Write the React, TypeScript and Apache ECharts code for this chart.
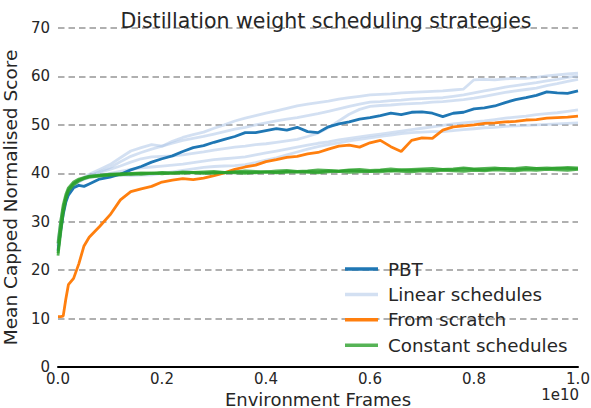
import React, { useEffect, useRef } from "react";
import * as echarts from "echarts";

const X = [
  0, 0.005, 0.01, 0.015, 0.02, 0.03, 0.04, 0.05, 0.06,
  0.08, 0.10, 0.12, 0.14, 0.16, 0.18, 0.20, 0.22, 0.24, 0.26,
  0.28, 0.30, 0.32, 0.34, 0.36, 0.38, 0.40, 0.42, 0.44, 0.46,
  0.48, 0.50, 0.52, 0.54, 0.56, 0.58, 0.60, 0.62, 0.64, 0.66,
  0.68, 0.70, 0.72, 0.74, 0.76, 0.78, 0.80, 0.82, 0.84, 0.86,
  0.88, 0.90, 0.92, 0.94, 0.96, 0.98, 1.00,
];

const PBT = [
  24, 28, 31.5, 34, 35.5, 37, 37.5, 37.3, 37.8,
  38.8, 39.2, 39.8, 40.7, 41.4, 42.3, 43, 43.6, 44.5, 45.3,
  45.7, 46.4, 47, 47.6, 48.4, 48.4, 48.8, 49.2, 48.9, 49.5,
  48.6, 48.4, 49.6, 50.2, 50.6, 51.2, 51.5, 51.9, 52.4, 52.1,
  52.6, 52.7, 52.4, 51.7, 52.4, 52.6, 53.3, 53.5, 53.9, 54.6,
  55.2, 55.6, 56.1, 56.8, 56.6, 56.5, 57,
];

const SCRATCH = [
  10.4, 10.4, 10.5, 14, 17, 18.3, 21.3, 25, 26.8,
  29, 31.4, 34.5, 36.2, 36.8, 37.3, 38.2, 38.6, 38.9, 38.7,
  39, 39.5, 40.1, 40.8, 41.3, 41.7, 42.4, 42.8, 43.3, 43.5,
  44, 44.3, 45, 45.6, 45.8, 45.4, 46.3, 46.8, 45.5, 44.5,
  46.8, 47.3, 47.2, 48.9, 49.6, 49.8, 50, 50.3, 50.4, 50.6,
  50.7, 51, 51.1, 51.4, 51.5, 51.6, 51.8,
];

const LINEAR_1 = [
  26, 30, 33, 35, 36.5, 37.8, 38.6, 39.2, 39.8,
  40.8, 41.8, 43.2, 44.6, 45.3, 45.9, 45.6, 46.6, 47.4, 48,
  48.5, 49.3, 50, 50.8, 51.4, 51.9, 52.4, 52.9, 53.4, 53.9,
  54.3, 54.6, 54.9, 55.3, 55.6, 55.9, 56.2, 56.3, 56.4, 56.6,
  56.7, 56.8, 56.9, 57, 57.2, 57.4, 59.3, 59.4, 59.3, 59.5,
  59.6, 59.6, 59.8, 60.1, 60.3, 60.5, 60.7,
];
const LINEAR_2 = [
  25, 29, 32.5, 34.7, 36.2, 37.6, 38.4, 38.9, 39.4,
  40.3, 41.2, 42.4, 43.5, 44.3, 45, 45.6, 46.2, 46.8, 47.2,
  47.6, 48.1, 48.6, 49.1, 49.5, 50, 50.4, 50.8, 51.2, 51.5,
  51.9, 52.3, 52.8, 53.3, 53.8, 54.3, 54.7, 54.8, 55, 55.1,
  55.3, 55.4, 55.5, 55.6, 55.9, 56.2, 56.6, 57, 57.4, 57.8,
  58.1, 58.4, 58.7, 59.1, 59.4, 59.8, 60.1,
];
const LINEAR_3 = [
  25.5, 29.5, 32.8, 35, 36.4, 37.7, 38.5, 39, 39.5,
  40.2, 40.8, 41.5, 42.3, 43, 43.4, 43.5, 43.6, 43.8, 44.1,
  44.4, 44.8, 45.1, 45.4, 45.6, 45.9, 46.1, 46.4, 46.7, 47,
  47.6, 48.3, 49.4, 50.8, 52.2, 53.2, 53.8, 54, 54.1, 54.3,
  54.4, 54.5, 54.7, 54.8, 55, 55.2, 55.5, 55.9, 56.3, 56.7,
  57, 57.3, 57.6, 58.1, 58.5, 59, 59.4,
];
const LINEAR_4 = [
  24.5, 28.5, 32, 34.5, 36, 37.4, 38.2, 38.8, 39.2,
  39.6, 40, 40.4, 40.8, 41.1, 41.3, 41.5, 41.7, 41.9, 42.2,
  42.5, 42.8, 43, 43.2, 43.4, 43.8, 44.2, 44.6, 45, 45.4,
  45.8, 46.2, 46.5, 46.9, 47.2, 47.5, 47.8, 48.1, 48.4, 48.7,
  49, 49.3, 49.6, 49.9, 50.2, 50.4, 50.6, 50.8, 51.1, 51.4,
  51.6, 51.8, 52.1, 52.3, 52.5, 52.8, 53.1,
];
const LINEAR_5 = [
  25, 29, 32.3, 34.6, 36.1, 37.5, 38.3, 38.8, 39.1,
  39.4, 39.5, 39.6, 39.5, 39.6, 39.7, 40, 40.3, 40.6, 40.9,
  41.2, 41.4, 41.5, 41.6, 41.8, 42.2, 42.7, 43.2, 43.8, 44.4,
  45, 45.5, 45.9, 46.3, 46.7, 47, 47.3, 47.6, 47.9, 48.2,
  48.4, 48.5, 48.6, 48.6, 48.8, 49, 49.2, 49.4, 49.5, 49.7,
  49.8, 49.9, 50, 50.1, 50.2, 50.3, 50.4,
];

const CONSTANT_1 = [
  23.5, 28.5, 32.5, 35, 36.6, 37.9, 38.6, 39, 39.3,
  39.5, 39.7, 39.8, 40, 40.1, 40, 40.2, 40.1, 40.3, 40.2,
  40.3, 40.4, 40.2, 40.3, 40.5, 40.4, 40.3, 40.5, 40.6, 40.4,
  40.5, 40.7, 40.6, 40.5, 40.7, 40.8, 40.6, 40.7, 40.9, 40.7,
  40.8, 40.9, 41, 40.8, 40.9, 41.1, 40.9, 41, 41.1, 40.9,
  41, 41.2, 41, 41.1, 41, 41.2, 41.1,
];
const CONSTANT_2 = [
  25.5, 30, 33.5, 35.6, 37, 38.2, 38.8, 39.1, 39.4,
  39.6, 39.8, 39.9, 39.8, 40, 40.1, 39.9, 40.1, 40, 40.2,
  40.1, 40, 40.2, 40.1, 40, 40.2, 40.3, 40.1, 40.2, 40.3,
  40.2, 40.1, 40.3, 40.4, 40.2, 40.3, 40.4, 40.3, 40.5, 40.4,
  40.3, 40.5, 40.4, 40.6, 40.5, 40.4, 40.6, 40.5, 40.7, 40.6,
  40.5, 40.7, 40.6, 40.8, 40.7, 40.6, 40.8,
];
const CONSTANT_3 = [
  23, 27.5, 31.8, 34.6, 36.3, 37.6, 38.4, 38.9, 39.2,
  39.4, 39.6, 39.7, 39.9, 39.8, 40, 40.1, 40, 40.2, 40.1,
  40, 40.2, 40.1, 40.3, 40.2, 40.1, 40.3, 40.2, 40.4, 40.3,
  40.4, 40.3, 40.5, 40.4, 40.6, 40.5, 40.4, 40.6, 40.5, 40.7,
  40.6, 40.7, 40.6, 40.8, 40.7, 40.9, 40.8, 40.7, 40.9, 41,
  40.8, 40.9, 41, 40.9, 41.1, 41, 40.9,
];

const LINEAR_ALL = [LINEAR_1, LINEAR_2, LINEAR_3, LINEAR_4, LINEAR_5];
const CONSTANT_ALL = [CONSTANT_1, CONSTANT_2, CONSTANT_3];
const LEGEND_NAMES = ["PBT", "Linear schedules", "From scratch", "Constant schedules"];

const FONT = "DejaVu Sans";
const TEXT = "#262626";

function pairs(ys: number[]) {
  return X.map((x, i) => [x, ys[i]]);
}

export default function App() {
  const ref = useRef<HTMLDivElement>(null);
  useEffect(() => {
    document.body.style.margin = "0";
    if (!ref.current) return;
    const chart = echarts.init(ref.current, null, { renderer: "svg" });
    const mk = (name: string, ys: number[], color: string, opacity: number, z: number) => ({
      type: "line",
      name,
      data: pairs(ys),
      showSymbol: false,
      symbol: "none",
      z,
      itemStyle: { color, opacity },
      lineStyle: { color, width: 2.8, opacity },
    });
    const series: any[] = [];
    LINEAR_ALL.forEach((ys) => series.push(mk("Linear schedules", ys, "#aec7e8", 0.55, 2)));
    series.push(mk("From scratch", SCRATCH, "#ff7f0e", 1, 3));
    series.push(mk("PBT", PBT, "#1f77b4", 1, 4));
    CONSTANT_ALL.forEach((ys) => series.push(mk("Constant schedules", ys, "#2ca02c", 0.8, 5)));

    chart.setOption({
      animation: false,
      textStyle: { fontFamily: FONT },
      title: {
        text: "Distillation weight scheduling strategies",
        left: 321,
        top: 5,
        textAlign: "center",
        textStyle: { fontFamily: FONT, fontSize: 20.5, fontWeight: "normal", color: TEXT },
      },
      grid: {
        left: 58,
        right: 13,
        top: 28,
        bottom: 41,
        containLabel: false,
        outerBoundsMode: "none",
      },
      legend: {
        data: LEGEND_NAMES,
        orient: "vertical",
        left: 340,
        top: 255,
        icon: "rect",
        itemWidth: 33,
        itemHeight: 3.5,
        itemGap: 7.4,
        textStyle: { fontFamily: FONT, fontSize: 18.3, color: TEXT, padding: [0, 0, 0, 5] },
      },
      graphic: [
        {
          type: "text",
          right: 12,
          top: 387,
          style: { text: "1e10", fontFamily: FONT, fontSize: 15, fill: TEXT },
        },
      ],
      xAxis: {
        type: "value",
        min: 0,
        max: 1,
        interval: 0.2,
        name: "Environment Frames",
        nameLocation: "middle",
        nameGap: 18,
        nameTextStyle: { fontFamily: FONT, fontSize: 18, color: TEXT },
        axisLine: { show: true, onZero: false, lineStyle: { color: "#000", width: 2 } },
        axisTick: { show: false },
        splitLine: { show: false },
        axisLabel: {
          margin: 4,
          fontFamily: FONT,
          fontSize: 15,
          color: TEXT,
          formatter: (v: number) => v.toFixed(1),
        },
      },
      yAxis: {
        type: "value",
        min: 0,
        max: 70,
        interval: 10,
        name: "Mean Capped Normalised Score",
        nameLocation: "middle",
        nameGap: 32,
        nameTextStyle: { fontFamily: FONT, fontSize: 18.5, color: TEXT },
        axisLine: { show: false },
        axisTick: { show: false },
        axisLabel: { margin: 8, fontFamily: FONT, fontSize: 15, color: TEXT },
        splitLine: {
          show: true,
          lineStyle: { color: "#b0b0b0", width: 1.8, type: [6.5, 4] },
        },
      },
      series,
    });
    return () => chart.dispose();
  }, []);
  return <div ref={ref} style={{ width: 591, height: 408 }} />;
}
